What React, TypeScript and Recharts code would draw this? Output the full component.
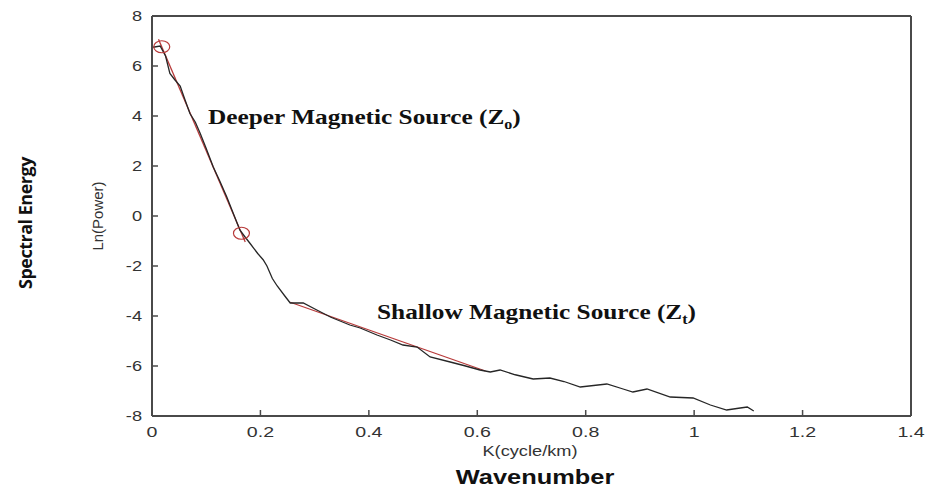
import { ComposedChart, Line, Scatter, XAxis, YAxis } from "recharts";

// wavenumber (cycle/km) and ln(power)
const kValues = [
  0.002, 0.015, 0.025, 0.033, 0.042, 0.052, 0.06, 0.07, 0.08, 0.089, 0.1, 0.113, 0.125, 0.138, 0.15,
  0.162, 0.172, 0.181, 0.195, 0.205, 0.212, 0.222, 0.231, 0.245, 0.255, 0.279, 0.304, 0.33, 0.365,
  0.384, 0.415, 0.44, 0.463, 0.489, 0.513, 0.55, 0.575, 0.605, 0.624, 0.642, 0.67, 0.703, 0.734,
  0.76, 0.79, 0.839, 0.869, 0.887, 0.913, 0.956, 0.998, 1.03, 1.06, 1.085, 1.098, 1.11,
];
const lnPower = [
  6.75, 6.8, 6.4, 5.7, 5.45, 5.2, 4.7, 4.1, 3.75, 3.3, 2.7, 1.96, 1.4, 0.76, 0.1,
  -0.56, -0.85, -1.1, -1.5, -1.75, -2.0, -2.5, -2.8, -3.2, -3.48, -3.48, -3.76, -4.05, -4.36,
  -4.48, -4.76, -4.96, -5.16, -5.24, -5.64, -5.84, -5.98, -6.16, -6.24, -6.16, -6.35, -6.52, -6.48,
  -6.62, -6.84, -6.72, -6.92, -7.04, -6.92, -7.24, -7.28, -7.56, -7.76, -7.68, -7.64, -7.8,
];

// straight-line fits (deep and shallow segments)
const deepFitK = [0.012, 0.172];
const deepFitP = [7.07, -1.04];
const shallowFitK = [0.255, 0.615];
const shallowFitP = [-3.45, -6.2];

// fit end markers
const markerK = [0.018, 0.165];
const markerP = [6.77, -0.69];

const xTicks = [0, 0.2, 0.4, 0.6, 0.8, 1, 1.2, 1.4];
const yTicks = [-8, -6, -4, -2, 0, 2, 4, 6, 8];

const spectrum = kValues.map((k, i) => ({ k, p: lnPower[i] }));
const deepFit = deepFitK.map((k, i) => ({ k, p: deepFitP[i] }));
const shallowFit = shallowFitK.map((k, i) => ({ k, p: shallowFitP[i] }));
const markers = markerK.map((k, i) => ({ k, p: markerP[i] }));

const FRAME = "#4a4a4a";
const FIT_RED = "#b83a3a";
const TICK_FONT = "'Liberation Sans', Arial, sans-serif";

const BottomTick = (props: any) => {
  const { x, y, payload } = props;
  return (
    <g>
      <line x1={x} y1={y} x2={x} y2={y - 6} stroke={FRAME} strokeWidth={1.5} />
      <text
        x={0}
        y={0}
        transform={`translate(${x},${y + 21}) scale(1.4,1)`}
        textAnchor="middle"
        fontSize={14}
        fontFamily={TICK_FONT}
        fill="#333"
      >
        {payload.value}
      </text>
    </g>
  );
};

const LeftTick = (props: any) => {
  const { x, y, payload } = props;
  return (
    <g>
      <line x1={x} y1={y} x2={x + 6} y2={y} stroke={FRAME} strokeWidth={1.5} />
      <text
        x={0}
        y={0}
        transform={`translate(${x - 10},${y + 5}) scale(1.3,1)`}
        textAnchor="end"
        fontSize={14}
        fontFamily={TICK_FONT}
        fill="#333"
      >
        {payload.value}
      </text>
    </g>
  );
};

const TopTick = (props: any) => {
  const { x, y } = props;
  return <line x1={x} y1={y} x2={x} y2={y + 6} stroke={FRAME} strokeWidth={1.5} />;
};

const RightTick = (props: any) => {
  const { x, y } = props;
  return <line x1={x} y1={y} x2={x - 6} y2={y} stroke={FRAME} strokeWidth={1.5} />;
};

const Ring = (props: any) => {
  const { cx, cy } = props;
  return <ellipse cx={cx} cy={cy} rx={8} ry={6} fill="none" stroke={FIT_RED} strokeWidth={1.2} />;
};

const labelStyle = {
  position: "absolute" as const,
  fontFamily: "'Liberation Serif', 'Times New Roman', serif",
  fontWeight: 700,
  fontSize: 22,
  lineHeight: "26px",
  color: "#111",
  whiteSpace: "nowrap" as const,
  transform: "scaleX(1.15)",
  transformOrigin: "left center",
};

export default function App() {
  return (
    <div style={{ position: "absolute", left: 0, top: 0, width: 926, height: 499, background: "#fff" }}>
      <ComposedChart width={926} height={499} margin={{ top: 6, right: 5, bottom: 53, left: 112 }}>
        <XAxis
          dataKey="k"
          type="number"
          domain={[0, 1.4]}
          ticks={xTicks}
          tickSize={0}
          tickMargin={0}
          height={30}
          tickLine={false}
          tick={<BottomTick />}
          axisLine={{ stroke: FRAME, strokeWidth: 2 }}
          interval={0}
        />
        <XAxis
          xAxisId="top"
          orientation="top"
          type="number"
          domain={[0, 1.4]}
          ticks={xTicks}
          tickSize={0}
          tickMargin={0}
          height={10}
          tickLine={false}
          tick={<TopTick />}
          axisLine={{ stroke: FRAME, strokeWidth: 2 }}
          interval={0}
        />
        <YAxis
          dataKey="p"
          type="number"
          domain={[-8, 8]}
          ticks={yTicks}
          tickSize={0}
          tickMargin={0}
          width={40}
          tickLine={false}
          tick={<LeftTick />}
          axisLine={{ stroke: FRAME, strokeWidth: 2 }}
          interval={0}
        />
        <YAxis
          yAxisId="right"
          orientation="right"
          type="number"
          domain={[-8, 8]}
          ticks={yTicks}
          tickSize={0}
          tickMargin={0}
          width={10}
          tickLine={false}
          tick={<RightTick />}
          axisLine={{ stroke: FRAME, strokeWidth: 2 }}
          interval={0}
        />
        <Line
          data={deepFit}
          dataKey="p"
          type="linear"
          stroke={FIT_RED}
          strokeWidth={1.3}
          dot={false}
          isAnimationActive={false}
        />
        <Line
          data={shallowFit}
          dataKey="p"
          type="linear"
          stroke={FIT_RED}
          strokeWidth={1.3}
          dot={false}
          isAnimationActive={false}
        />
        <Line
          data={spectrum}
          dataKey="p"
          type="linear"
          stroke="#262626"
          strokeWidth={1.3}
          dot={false}
          isAnimationActive={false}
        />
        <Scatter data={markers} dataKey="p" shape={<Ring />} isAnimationActive={false} />
      </ComposedChart>

      <div style={{ ...labelStyle, left: 208, top: 104 }}>
        Deeper Magnetic Source (Z<span style={{ fontSize: 14, verticalAlign: "sub" }}>o</span>)
      </div>
      <div style={{ ...labelStyle, left: 377, top: 299 }}>
        Shallow Magnetic Source (Z<span style={{ fontSize: 14, verticalAlign: "sub" }}>t</span>)
      </div>

      <div
        style={{
          position: "absolute",
          left: 25,
          top: 223,
          transform: "translate(-50%,-50%) rotate(-90deg)",
          fontFamily: "'Open Sans', sans-serif",
          fontWeight: 700,
          fontSize: 18,
          color: "#111",
          whiteSpace: "nowrap",
          letterSpacing: -0.5,
        }}
      >
        Spectral Energy
      </div>
      <div
        style={{
          position: "absolute",
          left: 97,
          top: 216,
          transform: "translate(-50%,-50%) rotate(-90deg)",
          fontFamily: TICK_FONT,
          fontSize: 15,
          color: "#333",
          whiteSpace: "nowrap",
        }}
      >
        Ln(Power)
      </div>
      <div
        style={{
          position: "absolute",
          left: 530,
          top: 451,
          transform: "translate(-50%,-50%) scaleX(1.3)",
          fontFamily: TICK_FONT,
          fontSize: 14,
          color: "#333",
          whiteSpace: "nowrap",
        }}
      >
        K(cycle/km)
      </div>
      <div
        style={{
          position: "absolute",
          left: 535,
          top: 477,
          transform: "translate(-50%,-50%) scaleX(1.27)",
          fontFamily: TICK_FONT,
          fontWeight: 700,
          fontSize: 20,
          color: "#111",
          whiteSpace: "nowrap",
        }}
      >
        Wavenumber
      </div>
    </div>
  );
}
